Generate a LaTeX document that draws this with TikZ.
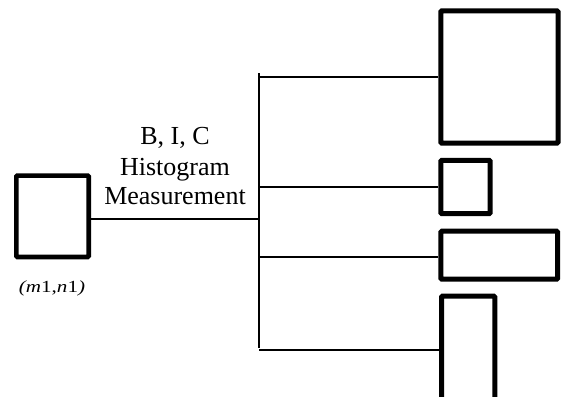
\documentclass[tikz,border=0pt]{standalone}
\usepackage{fontspec}
\setmainfont{Liberation Serif}
\begin{document}
\begin{tikzpicture}[x=1pt,y=-1pt,
  imgbox/.style={draw=black,line width=5pt,rounded corners=1pt,inner sep=0pt,fill=white},
  conn/.style={draw=black,line width=2pt},
  lab/.style={inner sep=0pt,anchor=base,font=\fontsize{26pt}{30pt}\selectfont}]
\useasboundingbox (0,0) rectangle (561,396);
\clip (0,0) rectangle (561,396);
% source image
\node[imgbox,line width=4.6pt,minimum width=72.4pt,minimum height=81.4pt] (src) at (52.5,216.3) {};
\node[inner sep=0pt,anchor=base,font=\fontsize{17pt}{20pt}\selectfont] (srclab) at (52,292)
  {\scalebox{1.24}[1]{\itshape (m\upshape 1,\itshape n\upshape 1\itshape )}};
% label
\node[lab] (l1) at (175,144) {B, I, C};
\node[lab] (l2) at (175,175) {Histogram};
\node[lab] (l3) at (175,204.5) {Measurement};
% result images
\node[imgbox,minimum width=117.2pt,minimum height=132.4pt] (b1) at (499.4,77) {};
\node[imgbox,minimum width=49.4pt,minimum height=53.3pt] (b2) at (465.5,186.9) {};
\node[imgbox,minimum width=116.7pt,minimum height=48pt] (b3) at (499.2,255.2) {};
\node[imgbox,minimum width=53.3pt,minimum height=106pt] (b4) at (468.2,349.2) {};
% connectors
\coordinate (vtop) at (259.3,73.3);
\coordinate (vbot) at (259.3,348.3);
\coordinate (jm) at (259.3,219);
\coordinate (j1) at (259.3,76.7);
\coordinate (j2) at (259.3,187.3);
\coordinate (j3) at (259.3,257.3);
\coordinate (j4) at (259.3,350);
\draw[conn] (vtop) -- (vbot);
\draw[conn] (jm -| src.east) -- (jm);
\draw[conn] (j1) -- (j1 -| b1.west);
\draw[conn] (j2) -- (j2 -| b2.west);
\draw[conn] (j3) -- (j3 -| b3.west);
\draw[conn] (j4) -- (j4 -| b4.west);
\end{tikzpicture}
\end{document}
